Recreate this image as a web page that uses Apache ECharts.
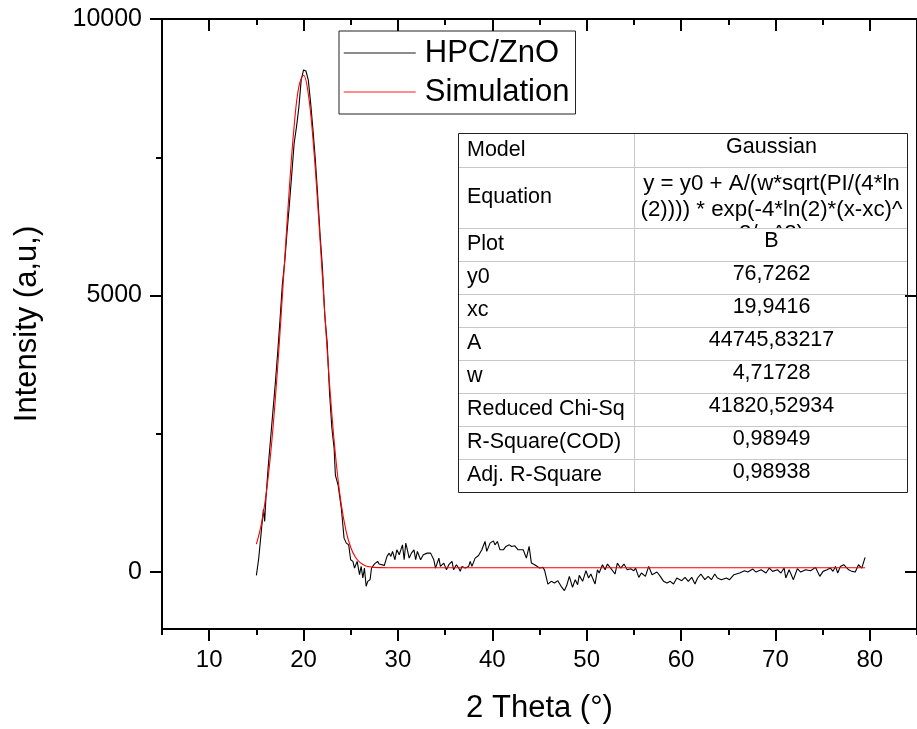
<!DOCTYPE html>
<html>
<head>
    <meta charset="utf-8">
    <title>HPC/ZnO</title>
    <style>
        html, body { margin: 0; padding: 0; background: #fff; }
        #main { width: 917px; height: 729px; }
    </style>
</head>
<body>
<div id="main"></div>
<script src="https://cdn.jsdelivr.net/npm/echarts@6/dist/echarts.min.js"></script>
<script>
    var FONT = '"Liberation Sans", Arial, Helvetica, sans-serif';

    // measured curve (2 theta, intensity)
    var theta = [15.0, 15.25, 15.5, 15.75, 15.88, 16.0, 16.25, 16.5, 16.75, 17.0, 17.25, 17.5, 17.75, 18.0, 18.25, 18.5,
        18.75, 19.0, 19.25, 19.5, 19.75, 20.0, 20.1, 20.25, 20.5, 20.75, 21.0, 21.25, 21.5, 21.75, 22.0, 22.25,
        22.5, 22.75, 23.0, 23.24, 23.37, 23.66, 24.0, 24.29, 24.53, 24.78, 24.99, 25.23, 25.4, 25.68, 25.93, 26.1,
        26.28, 26.45, 26.63, 26.8, 27.05, 27.2, 27.5, 27.85, 28.0, 28.56, 28.84, 29.08, 29.25, 29.43, 29.68, 29.88,
        30.14, 30.48, 30.66, 30.83, 31.0, 31.19, 31.43, 31.7, 31.88, 32.06, 32.4, 32.69, 33.1, 33.46, 33.8, 33.98,
        34.34, 34.5, 34.86, 35.14, 35.39, 35.73, 35.9, 36.19, 36.44, 36.6, 36.78, 37.13, 37.49, 37.66, 37.84, 38.18,
        38.54, 38.89, 39.23, 39.41, 39.76, 40.12, 40.28, 40.54, 40.81, 41.17, 41.44, 41.8, 42.04, 42.38, 42.74, 42.91,
        43.27, 43.61, 43.9, 44.14, 44.49, 44.66, 45.0, 45.37, 45.54, 45.89, 46.24, 46.59, 46.94, 47.29, 47.64, 47.89,
        48.16, 48.5, 48.79, 49.04, 49.21, 49.57, 49.92, 50.2, 50.44, 50.89, 51.14, 51.32, 51.67, 51.95, 52.2, 52.54,
        53.0, 53.25, 53.6, 53.95, 54.3, 54.65, 55.0, 55.18, 55.52, 55.8, 56.22, 56.57, 56.93, 57.45, 57.8, 58.15,
        58.5, 58.85, 59.2, 59.55, 60.07, 60.42, 60.77, 61.13, 61.47, 61.75, 62.1, 62.52, 62.87, 63.22, 63.57, 63.85,
        64.27, 64.8, 65.14, 65.6, 66.2, 66.72, 67.07, 67.6, 67.95, 68.48, 69.0, 69.35, 69.7, 70.22, 70.58, 70.92,
        71.1, 71.45, 71.9, 72.32, 72.68, 73.2, 73.73, 74.25, 74.7, 75.05, 75.47, 75.83, 76.1, 76.36, 76.6, 76.88,
        77.23, 77.76, 78.1, 78.46, 78.8, 79.15, 79.5];
    var intensity = [-60, 250, 700, 1135, 913, 1300, 1900, 2400, 2900, 3400, 3950, 4550, 5200, 5600, 6150, 6650,
        7200, 7750, 8050, 8400, 8900, 9080, 9100, 9060, 8900, 8480, 7990, 7450, 6800, 6100, 5500, 4640,
        4150, 3250, 2600, 2234, 1754, 1573, 1153, 613, 523, 492, 222, 193, 72, 193, -48, 102,
        -108, 72, -258, -168, -138, 72, 144, 193, 144, 120, 283, 342, 283, 373, 222, 402,
        312, 492, 222, 523, 402, 252, 342, 402, 222, 373, 222, 312, 342, 342, 222, 72,
        252, 102, 162, 41, 132, 193, 41, 132, 72, 12, 102, 72, 102, 193, 102, 252,
        300, 402, 553, 373, 523, 564, 492, 553, 402, 402, 463, 492, 463, 474, 402, 432,
        402, 252, 463, 162, 132, 102, 72, 85, 30, -220, -168, -198, -156, -258, -336, -240,
        -78, -276, -138, -228, -60, -168, 24, -108, -36, -216, 41, -18, 132, 41, 144, 72,
        -36, 162, 72, 144, 41, 60, 24, 72, -96, -18, -78, 102, -48, 0, -78, -168,
        -198, -168, -216, -108, -156, -96, -168, -96, -216, -108, -36, -138, -78, -138, -36, -108,
        -138, -108, -138, -48, -18, 24, 0, 54, 0, 41, -18, 72, 12, 41, -18, 72,
        -108, 41, -138, 60, 0, 41, 24, 84, -78, 12, 41, 72, 12, 102, -18, 102,
        132, 41, 12, 0, 132, 72, 264];

    // fitted gaussian
    var simTheta = [15.0, 15.5, 16.0, 16.5, 17.0, 17.5, 18.0, 18.5, 19.0, 19.5, 20.0, 20.5, 21.0, 21.5, 22.0, 22.5,
        23.0, 23.5, 24.0, 24.5, 25.0, 25.5, 26.0, 26.5, 27.0, 27.5, 28.0, 29.0, 79.5];
    var simInt = [503, 842, 1365, 2118, 3112, 4320, 5653, 6959, 8059, 8776, 8984, 8647, 7824, 6657, 5329, 4016,
        2852, 1914, 1220, 745, 444, 266, 169, 119, 95, 84, 80, 77, 77];

    var xMajor = [10, 20, 30, 40, 50, 60, 70, 80];
    var xMinor = [5, 15, 25, 35, 45, 55, 65, 75, 85];
    var yMajor = [0, 5000, 10000];
    var yMinor = [2500, 7500];

    // fit report table
    var tblLabels = ['Model', 'Equation', 'Plot', 'y0', 'xc', 'A', 'w', 'Reduced Chi-Sq', 'R-Square(COD)', 'Adj. R-Square'];
    var tblValues = ['Gaussian', '', 'B', '76,7262', '19,9416', '44745,83217', '4,71728', '41820,52934', '0,98949', '0,98938'];
    var eqLines = ['y = y0 + A/(w*sqrt(PI/(4*ln', '(2)))) * exp(-4*ln(2)*(x-xc)^', '2/w^2)'];
    var rowEdges = [133, 167, 228, 261, 294, 327, 360, 393, 426, 459, 492];

    var chart = echarts.init(document.getElementById('main'), null, {renderer: 'canvas'});

    function pairs(xs, ys) {
        var out = [];
        for (var i = 0; i < xs.length; i++) {
            out.push([xs[i], ys[i]]);
        }
        return out;
    }

    function xAx(pos, ticks, len, inside, labels) {
        return {
            type: 'value', position: pos, min: 5, max: 85,
            axisLine: {show: true, onZero: false, lineStyle: {color: '#000', width: 2}},
            axisTick: {show: true, inside: inside, length: len, customValues: ticks, lineStyle: {color: '#000', width: 2}},
            axisLabel: labels ? {show: true, customValues: xMajor, color: '#000', fontSize: 24, fontFamily: FONT, margin: 19} : {show: false},
            splitLine: {show: false}
        };
    }

    function yAx(pos, ticks, len, inside, labels) {
        return {
            type: 'value', position: pos, min: -1030, max: 10000,
            axisLine: {show: true, onZero: false, lineStyle: {color: '#000', width: 2}},
            axisTick: {show: true, inside: inside, length: len, customValues: ticks, lineStyle: {color: '#000', width: 2}},
            axisLabel: labels ? {
                show: true, customValues: yMajor, color: '#000', fontSize: 25, fontFamily: FONT, margin: 20,
                formatter: function (v) { return String(v); }
            } : {show: false},
            splitLine: {show: false}
        };
    }

    var xAxes = [
        xAx('bottom', xMajor, 12, false, true),
        xAx('bottom', xMinor, 6, false, false),
        xAx('top', xMajor, 12, true, false),
        xAx('top', xMinor, 6, true, false)
    ];
    xAxes[0].name = '2 Theta (°)';
    xAxes[0].nameLocation = 'middle';
    xAxes[0].nameGap = 64;
    xAxes[0].nameTextStyle = {color: '#000', fontSize: 31, fontFamily: FONT};

    var yAxes = [
        yAx('left', yMajor, 12, false, true),
        yAx('left', yMinor, 6, false, false),
        yAx('right', yMajor, 12, true, false)
    ];
    yAxes[0].name = 'Intensity (a,u,)';
    yAxes[0].nameLocation = 'middle';
    yAxes[0].nameGap = 119;
    yAxes[0].nameTextStyle = {color: '#000', fontSize: 31, fontFamily: FONT};

    // table drawn as graphic overlay
    var tx0 = 458, tx1 = 634, tx2 = 907;
    var els = [];
    var eqMid = (rowEdges[1] + rowEdges[2]) / 2;
    var eqY = [eqMid - 14, eqMid + 12.5, eqMid + 36];
    for (var k = 0; k < eqLines.length; k++) {
        els.push({
            type: 'text', z: 100, z2: 0,
            style: {text: eqLines[k], x: (tx1 + tx2) / 2 + 1, y: eqY[k], fill: '#000',
                font: '22.3px ' + FONT, textAlign: 'center', textVerticalAlign: 'middle', align: 'center', verticalAlign: 'middle'}
        });
    }
    // hide overflow of the equation cell
    els.push({type: 'rect', z: 100, z2: 1, shape: {x: tx1 + 1, y: rowEdges[2] + 1, width: tx2 - tx1 - 2, height: 30},
        style: {fill: '#fff'}});
    for (var r = 1; r < rowEdges.length - 1; r++) {
        els.push({type: 'line', z: 100, z2: 2, shape: {x1: tx0, y1: rowEdges[r] + 0.5, x2: tx2, y2: rowEdges[r] + 0.5},
            style: {stroke: '#c8c8c8', lineWidth: 1}});
    }
    els.push({type: 'line', z: 100, z2: 2, shape: {x1: tx1 + 0.5, y1: rowEdges[0], x2: tx1 + 0.5, y2: rowEdges[rowEdges.length - 1]},
        style: {stroke: '#c8c8c8', lineWidth: 1}});
    els.push({type: 'rect', z: 100, z2: 3, shape: {x: tx0 + 0.5, y: rowEdges[0] + 0.5, width: tx2 - tx0, height: rowEdges[rowEdges.length - 1] - rowEdges[0]},
        style: {fill: 'none', stroke: '#222', lineWidth: 1}});
    for (var i = 0; i < tblLabels.length; i++) {
        var mid = (rowEdges[i] + rowEdges[i + 1]) / 2;
        els.push({type: 'text', z: 100, z2: 4,
            style: {text: tblLabels[i], x: tx0 + 9, y: mid, fill: '#000', font: '21.5px ' + FONT,
                textAlign: 'left', textVerticalAlign: 'middle', align: 'left', verticalAlign: 'middle'}});
        if (tblValues[i]) {
            els.push({type: 'text', z: 100, z2: 4,
                style: {text: tblValues[i], x: (tx1 + tx2) / 2 + 1, y: mid - 3, fill: '#000', font: '21.5px ' + FONT,
                    textAlign: 'center', textVerticalAlign: 'middle', align: 'center', verticalAlign: 'middle'}});
        }
    }

    chart.setOption({
        animation: false,
        backgroundColor: '#fff',
        grid: {left: 162, top: 19, right: -7, bottom: 98, containLabel: false},
        legend: {
            show: true,
            orient: 'vertical', left: 339, top: 31,
            padding: [5, 6, 5, 4], itemGap: 5, itemWidth: 72, itemHeight: 14,
            borderColor: '#222', borderWidth: 1, backgroundColor: '#fff',
            itemStyle: {opacity: 0},
            textStyle: {color: '#000', fontSize: 31, fontFamily: FONT, lineHeight: 34, padding: [0, 0, 0, 4]},
            data: [
                {name: 'HPC/ZnO', lineStyle: {color: '#666', width: 1.5}},
                {name: 'Simulation', lineStyle: {color: '#ff6a6a', width: 1.5}}
            ]
        },
        xAxis: xAxes,
        yAxis: yAxes,
        graphic: {elements: els},
        series: [
            {
                name: 'HPC/ZnO', type: 'line', xAxisIndex: 0, yAxisIndex: 0,
                symbol: 'none', data: pairs(theta, intensity),
                lineStyle: {color: '#000', width: 1.1}, itemStyle: {color: '#000'}
            },
            {
                name: 'Simulation', type: 'line', xAxisIndex: 0, yAxisIndex: 0,
                symbol: 'none', smooth: 0.4, data: pairs(simTheta, simInt),
                lineStyle: {color: '#ff0000', width: 1.1}, itemStyle: {color: '#ff0000'}
            }
        ]
    });
</script>
</body>
</html>
